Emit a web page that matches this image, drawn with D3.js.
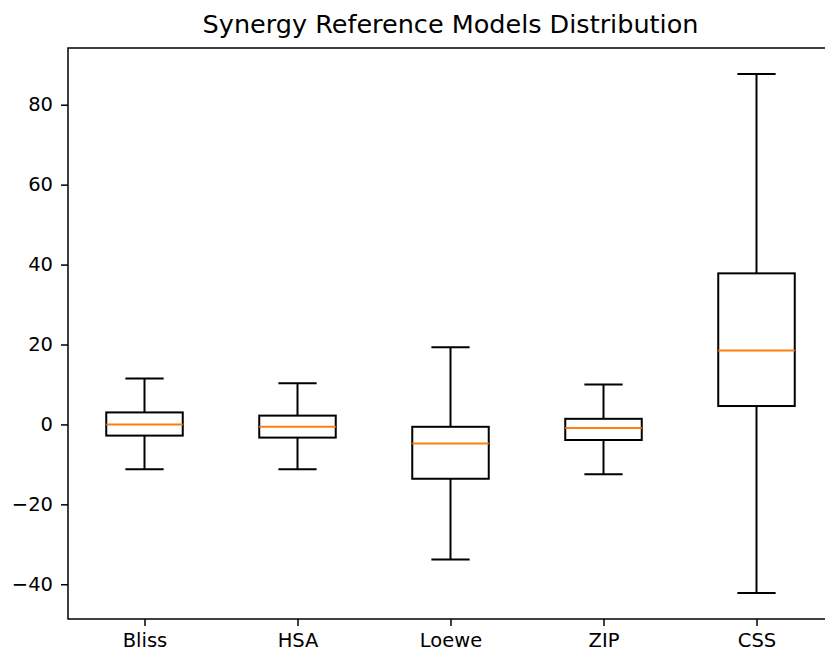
<!DOCTYPE html>
<html>
<head>
<meta charset="utf-8">
<script src="https://cdn.jsdelivr.net/npm/d3@7"></script>
<style>
  body { margin: 0; background: #fff; }
  svg { display: block; }
  text { font-family: "DejaVu Sans", sans-serif; fill: #000; }
</style>
</head>
<body>
<svg id="box_svg" width="825" height="652"></svg>
<script>
// box statistics
const models = ['Bliss', 'HSA', 'Loewe', 'ZIP', 'CSS'];
const whiskerLow = [-11.2, -11.2, -33.8, -12.5, -42.2];
const q1 = [-2.8, -3.3, -13.6, -3.9, 4.6];
const median = [0.0, -0.6, -4.75, -0.9, 18.5];
const q3 = [3.0, 2.2, -0.6, 1.4, 37.8];
const whiskerHigh = [11.5, 10.3, 19.3, 10.0, 87.7];
const yTicks = [-40, -20, 0, 20, 40, 60, 80];

function createBoxPlot() {
    const svg = d3.select('#box_svg');
    const margin = { top: 48, right: -8, bottom: 33, left: 68 };
    const width = +svg.attr('width');
    const height = +svg.attr('height');
    const innerWidth = width - margin.left - margin.right;
    const innerHeight = height - margin.top - margin.bottom;

    const data = models.map((m, i) => ({
        name: m, pos: i + 1,
        lo: whiskerLow[i], q1: q1[i], med: median[i], q3: q3[i], hi: whiskerHigh[i]
    }));

    // matplotlib-style 5% margin on y
    const yMin = d3.min(whiskerLow), yMax = d3.max(whiskerHigh);
    const pad = (yMax - yMin) * 0.05;

    const xScale = d3.scaleLinear()
            .domain([0.5, models.length + 0.5])
            .range([0, innerWidth]);
    const yScale = d3.scaleLinear()
            .domain([yMin - pad, yMax + pad])
            .range([innerHeight, 0]);

    const g = svg.append('g')
            .attr('transform', `translate(${margin.left},${margin.top})`);

    const yAxis = g.append('g')
            .call(d3.axisLeft(yScale).tickValues(yTicks).tickSize(7).tickPadding(8)
                  .tickFormat(d => d < 0 ? '\u2212' + Math.abs(d) : d));
    const xAxis = g.append('g')
            .attr('transform', `translate(0,${innerHeight})`)
            .call(d3.axisBottom(xScale).tickValues(data.map(d => d.pos)).tickSize(7).tickPadding(7)
                  .tickFormat((d, i) => models[i]));
    [yAxis, xAxis].forEach(a => {
        a.attr('font-family', null).attr('font-size', null);
        a.selectAll('text').style('font-size', '19.5px').style('fill', '#000');
        a.selectAll('line').style('stroke', '#000').style('stroke-width', 1.5);
        a.select('.domain').remove();
    });

    // spines
    g.append('rect')
            .attr('x', 0).attr('y', 0)
            .attr('width', innerWidth).attr('height', innerHeight)
            .style('fill', 'none').style('stroke', '#000').style('stroke-width', 1.5);

    const boxW = xScale(1.5) - xScale(1);
    const capW = boxW / 2;

    const boxes = g.selectAll('.box')
            .data(data)
            .enter()
            .append('g')
            .attr('class', 'box')
            .attr('transform', d => `translate(${xScale(d.pos)},0)`);

    // whiskers
    boxes.append('line')
            .attr('x1', 0).attr('x2', 0)
            .attr('y1', d => yScale(d.q3)).attr('y2', d => yScale(d.hi))
            .style('stroke', '#000').style('stroke-width', 2);
    boxes.append('line')
            .attr('x1', 0).attr('x2', 0)
            .attr('y1', d => yScale(d.q1)).attr('y2', d => yScale(d.lo))
            .style('stroke', '#000').style('stroke-width', 2);
    // caps
    boxes.append('line')
            .attr('x1', -capW / 2).attr('x2', capW / 2)
            .attr('y1', d => yScale(d.hi)).attr('y2', d => yScale(d.hi))
            .style('stroke', '#000').style('stroke-width', 2);
    boxes.append('line')
            .attr('x1', -capW / 2).attr('x2', capW / 2)
            .attr('y1', d => yScale(d.lo)).attr('y2', d => yScale(d.lo))
            .style('stroke', '#000').style('stroke-width', 2);
    // box
    boxes.append('rect')
            .attr('x', -boxW / 2)
            .attr('width', boxW)
            .attr('y', d => yScale(d.q3))
            .attr('height', d => yScale(d.q1) - yScale(d.q3))
            .style('fill', 'none').style('stroke', '#000').style('stroke-width', 2);
    // median
    boxes.append('line')
            .attr('x1', -boxW / 2).attr('x2', boxW / 2)
            .attr('y1', d => yScale(d.med)).attr('y2', d => yScale(d.med))
            .style('stroke', '#ff7f0e').style('stroke-width', 2);

    // title
    svg.append('text')
            .attr('x', margin.left + xScale(3))
            .attr('y', 33)
            .style('text-anchor', 'middle')
            .style('font-size', '25.5px')
            .text('Synergy Reference Models Distribution');
}

createBoxPlot();
</script>
</body>
</html>
